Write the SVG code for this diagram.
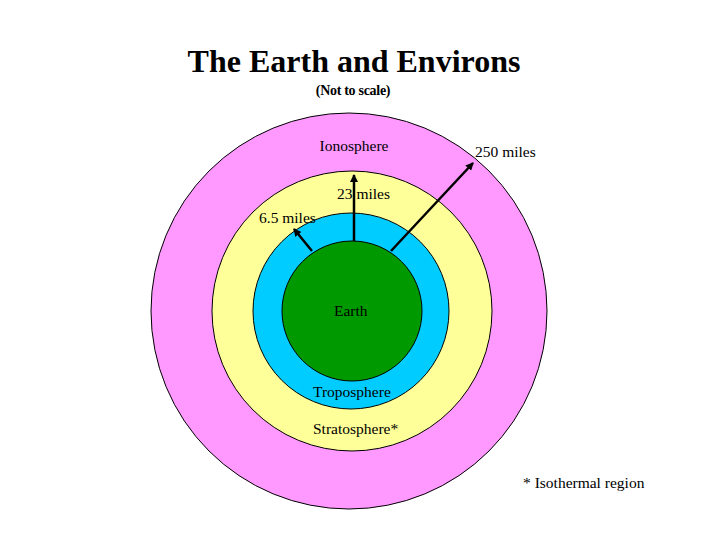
<svg xmlns="http://www.w3.org/2000/svg" width="720" height="540" viewBox="0 0 720 540">
<defs><marker id="ah" markerWidth="8" markerHeight="8" refX="7" refY="4" orient="auto" markerUnits="userSpaceOnUse"><path d="M0,0 L8,4 L0,8 z" fill="#000"/></marker>
<style>.c{stroke:#000;stroke-width:1}.t{font-family:"Liberation Serif",serif;font-size:15.5px;fill:#000}.a{stroke:#000;stroke-width:2.5;fill:none;marker-end:url(#ah)}</style></defs>
<rect width="720" height="540" fill="#fff"/>
<text x="354" y="72" text-anchor="middle" style="font-family:'Liberation Serif',serif;font-size:32px;font-weight:bold">The Earth and Environs</text>
<text x="353" y="95" text-anchor="middle" style="font-family:'Liberation Serif',serif;font-size:14px;font-weight:bold;letter-spacing:-0.3px">(Not to scale)</text>
<g id="ionosphere"><circle class="c" cx="349" cy="311" r="198" fill="#ff99ff"/><text class="t" x="354" y="151" text-anchor="middle">Ionosphere</text></g>
<g id="stratosphere"><circle class="c" cx="352" cy="311" r="140" fill="#ffff99"/><text class="t" x="313" y="434">Stratosphere*</text></g>
<g id="troposphere"><circle class="c" cx="351" cy="311" r="98" fill="#00ccff"/><text class="t" x="313" y="397">Troposphere</text></g>
<g id="earth"><circle class="c" cx="352" cy="311" r="70" fill="#009900"/><text class="t" x="334" y="316">Earth</text></g>
<g id="connectors">
<line class="a" x1="312" y1="251" x2="294" y2="229"/>
<line class="a" x1="354" y1="241" x2="354" y2="175"/>
<line class="a" x1="391" y1="251" x2="473" y2="163"/>
</g>
<text class="t" x="475" y="157">250 miles</text>
<text class="t" x="337" y="199">23 miles</text>
<text class="t" x="259" y="223">6.5 miles</text>
<text class="t" x="523" y="488">* Isothermal region</text>
</svg>
